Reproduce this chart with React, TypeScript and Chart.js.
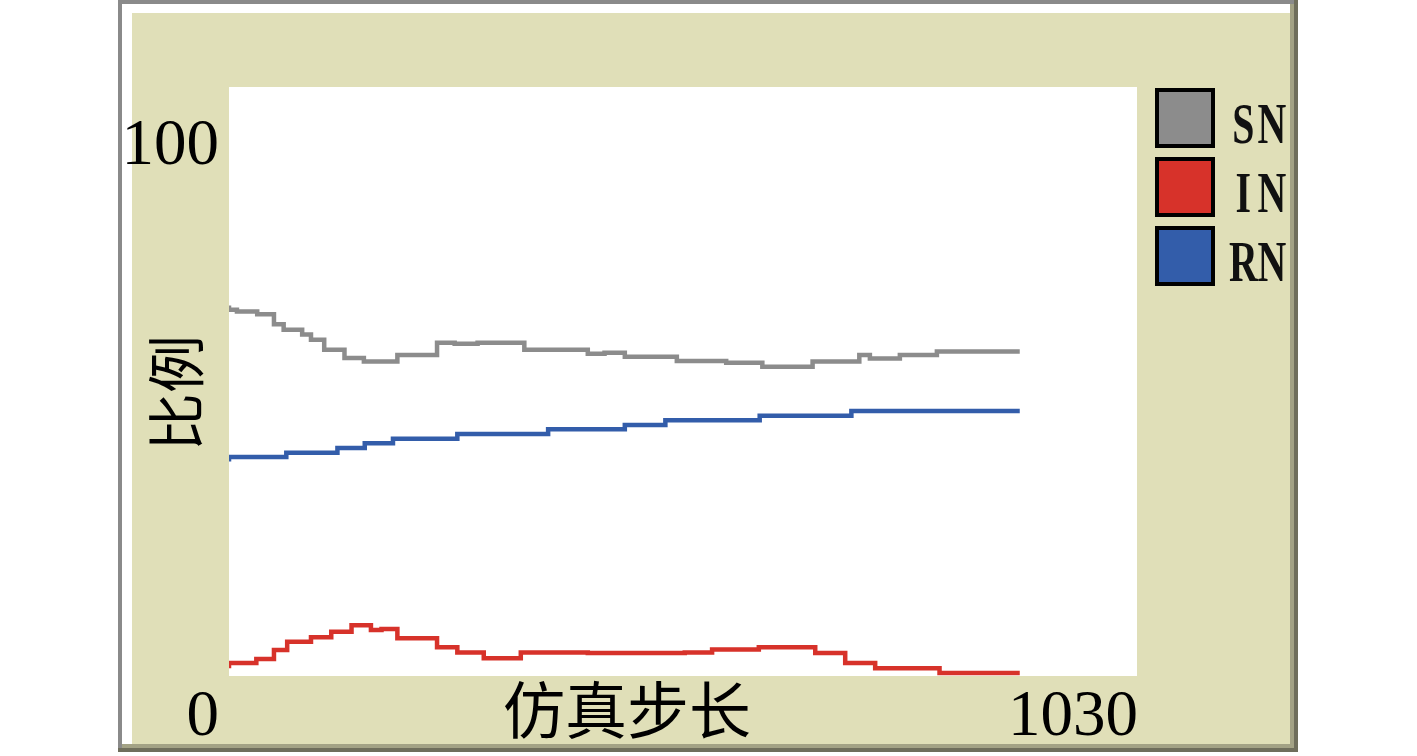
import React, { useEffect, useRef } from "react";
import Chart from "chart.js/auto";

// Simulation steps at which each series changes level, and the level (%)
const snSteps = [0, 9, 32, 51, 62, 83, 93, 108, 131, 153, 191, 236, 256, 282, 335, 407, 426, 449, 508, 564, 605, 662, 715, 727, 761, 803, 852, 897];
const snValues = [62.9, 62.2, 61.9, 61.4, 59.7, 58.8, 58.0, 57.1, 55.4, 54.0, 53.4, 54.5, 56.6, 56.4, 56.6, 55.4, 54.7, 54.9, 54.2, 53.5, 53.2, 52.5, 53.4, 54.5, 53.9, 54.5, 55.1, 55.1];

const inSteps = [0, 31, 51, 66, 93, 116, 139, 161, 173, 191, 236, 259, 289, 331, 407, 517, 548, 601, 665, 699, 733, 806, 852, 897];
const inValues = [1.3, 2.2, 2.9, 4.4, 5.8, 6.6, 7.5, 8.6, 7.8, 8.0, 6.4, 4.9, 4.0, 3.0, 4.0, 3.9, 4.0, 4.5, 4.9, 3.9, 2.2, 1.3, 0.5, 0.5];

const rnSteps = [0, 65, 123, 154, 186, 259, 362, 449, 495, 602, 706, 798, 897];
const rnValues = [36.4, 37.2, 37.9, 38.7, 39.5, 40.3, 41.1, 41.9, 42.6, 43.4, 44.2, 45.0, 45.0];

const seriesNames = ["SN", "IN", "RN"];
const seriesColors = ["#8c8c8c", "#d7322a", "#335daa"];

const xMin = 0;
const xMax = 1030;
const yMin = 0;
const yMax = 100;
const xTickLabels = ["0", "1030"];
const yTickLabels = ["100"];
const xTitle = "仿真步长";
const yTitle = "比例";

const W = 1417;
const H = 756;

function toPoints(xs: number[], ys: number[]) {
  return xs.map((x, i) => ({ x, y: ys[i] }));
}

const framePlugin = {
  id: "netlogoFrame",
  beforeDraw(chart: any) {
    const ctx = chart.ctx;
    const ca = chart.chartArea;
    ctx.save();
    ctx.fillStyle = "#ffffff";
    ctx.fillRect(0, 0, W, H);
    // bevelled frame
    ctx.fillStyle = "#6f6e5c";
    ctx.fillRect(118, 0, 1180, 752);
    ctx.fillStyle = "#8a8a8a";
    ctx.fillRect(118, 0, 1176, 4);
    ctx.fillRect(118, 0, 4, 748);
    ctx.fillStyle = "#a3a285";
    ctx.fillRect(122, 4, 1172, 744);
    ctx.fillStyle = "#ffffff";
    ctx.fillRect(122, 4, 1168, 740);
    ctx.fillStyle = "#e0dfb8";
    ctx.fillRect(132, 13, 1158, 731);
    // plot area
    ctx.fillStyle = "#ffffff";
    ctx.fillRect(ca.left, ca.top, ca.right - ca.left, ca.bottom - ca.top);
    ctx.restore();
  },
  afterDraw(chart: any) {
    const ctx = chart.ctx;
    const ca = chart.chartArea;
    ctx.save();
    ctx.fillStyle = "#000000";
    ctx.font = '65px "Liberation Serif", "DejaVu Serif", serif';
    ctx.textBaseline = "alphabetic";
    ctx.textAlign = "right";
    ctx.fillText(yTickLabels[0], ca.left - 10, 164);
    ctx.fillText(xTickLabels[0], ca.left - 10, 735);
    ctx.fillText(xTickLabels[1], ca.right + 1, 735);

    // axis titles
    ctx.textAlign = "center";
    ctx.textBaseline = "middle";
    ctx.font = '62px "Noto Sans CJK SC", sans-serif';
    ctx.fillText(xTitle, 627, 710);
    ctx.save();
    ctx.translate(176, 393);
    ctx.rotate(-Math.PI / 2);
    ctx.font = '58px "Noto Sans CJK SC", sans-serif';
    ctx.fillText(yTitle, 0, 0);
    ctx.restore();

    // legend
    const boxTops = [88, 157, 226];
    const textBase = [143, 212, 281];
    const cell = 28.5;
    for (let i = 0; i < seriesNames.length; i++) {
      ctx.fillStyle = "#000000";
      ctx.fillRect(1155, boxTops[i], 60, 60);
      ctx.fillStyle = seriesColors[i];
      ctx.fillRect(1159, boxTops[i] + 4, 52, 52);
      ctx.fillStyle = "#111111";
      const name = seriesNames[i];
      for (let c = 0; c < name.length; c++) {
        ctx.save();
        ctx.translate(1229 + cell * c + cell / 2, textBase[i]);
        ctx.scale(0.78, 1.12);
        ctx.font = 'bold 51px "Liberation Serif", "DejaVu Serif", serif';
        ctx.textAlign = "center";
        ctx.textBaseline = "alphabetic";
        ctx.fillText(name[c], 0, 0);
        ctx.restore();
      }
    }
    ctx.restore();
  },
};

export default function App() {
  const ref = useRef<HTMLCanvasElement | null>(null);
  useEffect(() => {
    document.body.style.margin = "0";
    const canvas = ref.current!;
    const chart = new Chart(canvas, {
      type: "line",
      data: {
        datasets: [
          { label: seriesNames[0], data: toPoints(snSteps, snValues), borderColor: seriesColors[0] },
          { label: seriesNames[1], data: toPoints(inSteps, inValues), borderColor: seriesColors[1] },
          { label: seriesNames[2], data: toPoints(rnSteps, rnValues), borderColor: seriesColors[2] },
        ].map((d) => ({
          ...d,
          stepped: "after" as const,
          borderWidth: 4.5,
          pointRadius: 0,
          fill: false,
          tension: 0,
          borderCapStyle: "butt" as const,
        })),
      },
      options: {
        responsive: false,
        animation: false,
        devicePixelRatio: 1,
        layout: { padding: { left: 229, right: W - 1137, top: 87, bottom: H - 676 } },
        plugins: { legend: { display: false }, tooltip: { enabled: false } },
        scales: {
          x: { type: "linear", min: xMin, max: xMax, display: false },
          y: { type: "linear", min: yMin, max: yMax, display: false },
        },
      },
      plugins: [framePlugin],
    });
    return () => chart.destroy();
  }, []);
  return <canvas ref={ref} width={W} height={H} style={{ display: "block", width: W, height: H }} />;
}
